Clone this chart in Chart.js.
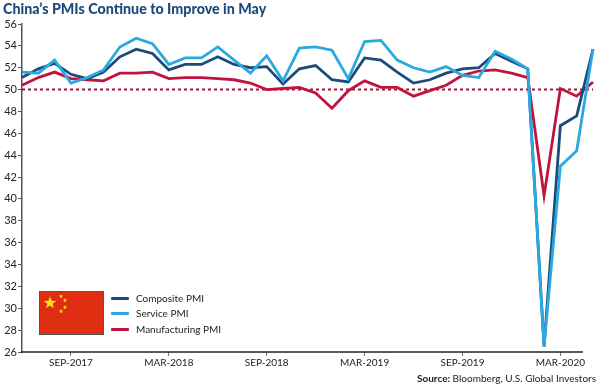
<!DOCTYPE html>
<html lang="en">
<head>
  <meta charset="UTF-8">
  <title>China's PMIs Continue to Improve in May</title>
  <script src="https://cdn.jsdelivr.net/npm/chart.js"></script>
  <style>
    html, body { margin: 0; padding: 0; background: #fff; }
    #wrap { position: relative; width: 600px; height: 387px; overflow: hidden; font-family: Lato, sans-serif; }
    #chart { position: absolute; left: 0; top: 0; }
    #title { position: absolute; left: 3px; top: -1px; font-size: 15px; font-weight: 900; color: #1b4b7a; white-space: nowrap; transform: scaleX(0.95); transform-origin: left top; }
    #source { position: absolute; right: 4px; top: 372px; font-size: 10px; color: #222; white-space: nowrap; }
    #flag { position: absolute; left: 39px; top: 291px; }
    .key { position: absolute; left: 111px; width: 18px; height: 3px; border-radius: 1px; }
    .name { position: absolute; left: 136px; font-size: 10px; color: #222; white-space: nowrap; }
  </style>
</head>
<body>
<div id="wrap">
  <canvas id="chart" width="600" height="387"></canvas>
  <div id="title">China’s PMIs Continue to Improve in May</div>

  <!-- флаг -->
  <svg id="flag" width="65" height="44" viewBox="0 0 65 44">
    <rect x="0.5" y="0.5" width="64" height="43" fill="#e02e12" stroke="#555"/>
    <g fill="#fbe216">
      <polygon points="11,5.5 12.6,9.8 17.2,10 13.6,12.8 14.9,17.2 11,14.6 7.1,17.2 8.4,12.8 4.8,10 9.4,9.8"/>
      <polygon points="22,3 22.6,4.6 24.2,4.6 22.9,5.6 23.4,7.2 22,6.3 20.6,7.2 21.1,5.6 19.8,4.6 21.4,4.6"/>
      <polygon points="26,7 26.6,8.6 28.2,8.6 26.9,9.6 27.4,11.2 26,10.3 24.6,11.2 25.1,9.6 23.8,8.6 25.4,8.6"/>
      <polygon points="26,14 26.6,15.6 28.2,15.6 26.9,16.6 27.4,18.2 26,17.3 24.6,18.2 25.1,16.6 23.8,15.6 25.4,15.6"/>
      <polygon points="22,18 22.6,19.6 24.2,19.6 22.9,20.6 23.4,22.2 22,21.3 20.6,22.2 21.1,20.6 19.8,19.6 21.4,19.6"/>
    </g>
  </svg>

  <div class="key" style="top:297px;background:#1b4b7a"></div>
  <div class="name" style="top:292px">Composite PMI</div>
  <div class="key" style="top:312px;background:#29a9e0"></div>
  <div class="name" style="top:307px">Service PMI</div>
  <div class="key" style="top:328px;background:#c0143f"></div>
  <div class="name" style="top:323px">Manufacturing PMI</div>

  <div id="source"><b>Source:</b> Bloomberg, U.S. Global Investors</div>
</div>

<script>
  const months = [
    'JUN-2017', 'JUL-2017', 'AUG-2017', 'SEP-2017', 'OCT-2017', 'NOV-2017', 'DEC-2017',
    'JAN-2018', 'FEB-2018', 'MAR-2018', 'APR-2018', 'MAY-2018', 'JUN-2018', 'JUL-2018',
    'AUG-2018', 'SEP-2018', 'OCT-2018', 'NOV-2018', 'DEC-2018', 'JAN-2019', 'FEB-2019',
    'MAR-2019', 'APR-2019', 'MAY-2019', 'JUN-2019', 'JUL-2019', 'AUG-2019', 'SEP-2019',
    'OCT-2019', 'NOV-2019', 'DEC-2019', 'JAN-2020', 'FEB-2020', 'MAR-2020', 'APR-2020',
    'MAY-2020'
  ];
  const xLabels = ['SEP-2017', 'MAR-2018', 'SEP-2018', 'MAR-2019', 'SEP-2019', 'MAR-2020'];

  const composite = [
    51.1, 51.9, 52.4, 51.4, 51.0, 51.6, 53.0, 53.7, 53.3, 51.8, 52.3, 52.3,
    53.0, 52.3, 52.0, 52.1, 50.5, 51.9, 52.2, 50.9, 50.7, 52.9, 52.7, 51.6,
    50.6, 50.9, 51.5, 51.9, 52.0, 53.3, 52.6, 51.9, 26.5, 46.7, 47.6, 53.7
  ];
  const service = [
    51.6, 51.5, 52.7, 50.6, 51.1, 51.8, 53.9, 54.7, 54.2, 52.3, 52.9, 52.9,
    53.9, 52.7, 51.5, 53.1, 50.8, 53.8, 53.9, 53.6, 51.0, 54.4, 54.5, 52.7,
    52.0, 51.6, 52.1, 51.3, 51.1, 53.5, 52.8, 51.9, 26.5, 43.0, 44.4, 53.7
  ];
  const manufacturing = [
    50.4, 51.1, 51.6, 51.0, 50.9, 50.8, 51.5, 51.5, 51.6, 51.0, 51.1, 51.1,
    51.0, 50.9, 50.6, 50.0, 50.1, 50.2, 49.7, 48.3, 49.9, 50.8, 50.2, 50.2,
    49.4, 49.9, 50.4, 51.3, 51.7, 51.8, 51.5, 51.1, 40.3, 50.1, 49.4, 50.7
  ];
  const baseline = months.map(() => 50);

  // ось X заканчивается раньше линий
  const xAxisLine = {
    id: 'xAxisLine',
    afterDraw(chart) {
      const c = chart.ctx;
      const b = chart.scales.y.bottom;
      c.save();
      c.strokeStyle = '#222';
      c.lineWidth = 1.5;
      c.beginPath();
      c.moveTo(chart.scales.x.left - 1, b);
      c.lineTo(583, b);
      c.stroke();
      c.restore();
    }
  };

  new Chart(document.getElementById('chart').getContext('2d'), {
    type: 'line',
    plugins: [xAxisLine],
    data: {
      labels: months,
      datasets: [
        { label: 'Service PMI', data: service, borderColor: '#29a9e0', order: 1 },
        { label: 'Composite PMI', data: composite, borderColor: '#1b4b7a', order: 2 },
        { label: 'Manufacturing PMI', data: manufacturing, borderColor: '#c0143f', order: 3 },
        { label: 'Base', data: baseline, borderColor: '#a5123f', borderDash: [3, 3], borderWidth: 2, order: 4 }
      ]
    },
    options: {
      responsive: false,
      animation: false,
      layout: { padding: { top: 24, right: 7, left: 0, bottom: 0 } },
      elements: {
        point: { radius: 0 },
        line: { borderWidth: 2.8, tension: 0, fill: false, borderJoinStyle: 'miter' }
      },
      datasets: { line: { clip: false } },
      plugins: { legend: { display: false }, tooltip: { enabled: false } },
      scales: {
        x: {
          afterFit(scale) { scale.height = 35; },
          border: { display: false },
          grid: { drawOnChartArea: false, tickLength: 4, color: '#777', lineWidth: 1 },
          ticks: {
            autoSkip: false,
            maxRotation: 0,
            padding: 1,
            color: '#222',
            font: { family: 'Lato', size: 10 },
            callback(value) {
              const name = this.getLabelForValue(value);
              return xLabels.includes(name) ? name : null;
            }
          }
        },
        y: {
          min: 26,
          max: 56,
          afterFit(scale) { scale.width = 22; },
          border: { color: '#555', width: 1.5 },
          grid: { drawOnChartArea: false, tickLength: 4, color: '#555', lineWidth: 1 },
          ticks: {
            autoSkip: false,
            stepSize: 2,
            padding: 1,
            color: '#222',
            font: { family: 'Lato', size: 11 }
          }
        }
      }
    }
  });
</script>
</body>
</html>
